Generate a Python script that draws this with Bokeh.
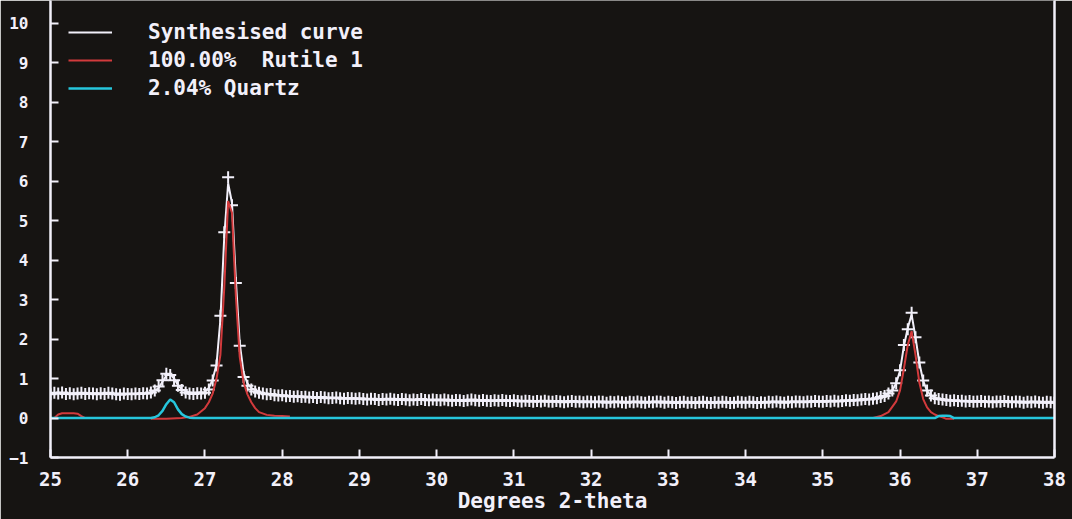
from bokeh.plotting import figure
from bokeh.models import Legend, LegendItem, LinearAxis, FixedTicker, Range1d
from bokeh.embed import file_html
from bokeh.resources import INLINE

# ---------------- data ----------------
# observed intensities, 2-theta 25.00 .. 38.00 in steps of 0.05
obs_start = 25.0
obs_step = 0.05
obs_values = [
    # 25.00 - 25.95
    0.60, 0.64, 0.62, 0.65, 0.61, 0.63, 0.60, 0.62, 0.64, 0.61,
    0.63, 0.62, 0.60, 0.63, 0.61, 0.64, 0.62, 0.60, 0.59, 0.62,
    # 26.00 - 26.95
    0.61, 0.60, 0.62, 0.61, 0.63, 0.62, 0.65, 0.70, 0.80, 0.96,
    1.12, 1.09, 0.96, 0.82, 0.71, 0.65, 0.62, 0.61, 0.63, 0.62,
    # 27.00 - 27.95
    0.64, 0.72, 0.95, 1.33, 2.59, 4.71, 6.10, 5.39, 3.42, 1.83,
    1.04, 0.82, 0.72, 0.67, 0.64, 0.62, 0.60, 0.61, 0.58, 0.57,
    # 28.00 - 28.95
    0.58, 0.55, 0.56, 0.54, 0.55, 0.53, 0.54, 0.52, 0.53, 0.51,
    0.53, 0.52, 0.50, 0.51, 0.52, 0.50, 0.49, 0.51, 0.50, 0.49,
    # 29.00 - 29.95
    0.50, 0.48, 0.47, 0.49, 0.48, 0.46, 0.48, 0.47, 0.49, 0.47,
    0.46, 0.48, 0.47, 0.45, 0.47, 0.46, 0.48, 0.46, 0.45, 0.47,
    # 30.00 - 30.95
    0.46, 0.45, 0.47, 0.45, 0.44, 0.46, 0.45, 0.43, 0.45, 0.47,
    0.45, 0.44, 0.46, 0.44, 0.43, 0.45, 0.44, 0.46, 0.44, 0.43,
    # 31.00 - 31.95
    0.45, 0.43, 0.42, 0.44, 0.43, 0.41, 0.43, 0.42, 0.44, 0.42,
    0.41, 0.43, 0.42, 0.40, 0.42, 0.43, 0.41, 0.42, 0.40, 0.42,
    # 32.00 - 32.95
    0.41, 0.40, 0.42, 0.41, 0.39, 0.41, 0.40, 0.42, 0.40, 0.39,
    0.41, 0.40, 0.42, 0.40, 0.39, 0.41, 0.40, 0.42, 0.41, 0.39,
    # 33.00 - 33.95
    0.41, 0.40, 0.38, 0.40, 0.41, 0.39, 0.40, 0.38, 0.40, 0.41,
    0.39, 0.38, 0.40, 0.39, 0.41, 0.40, 0.38, 0.39, 0.41, 0.40,
    # 34.00 - 34.95
    0.39, 0.41, 0.40, 0.38, 0.40, 0.39, 0.41, 0.40, 0.42, 0.40,
    0.39, 0.41, 0.40, 0.42, 0.41, 0.40, 0.42, 0.41, 0.43, 0.42,
    # 35.00 - 35.95
    0.41, 0.43, 0.42, 0.44, 0.42, 0.43, 0.45, 0.44, 0.46, 0.45,
    0.47, 0.48, 0.47, 0.49, 0.50, 0.53, 0.56, 0.62, 0.70, 0.88,
    # 36.00 - 36.95
    1.21, 1.85, 2.25, 2.67, 2.05, 1.41, 0.95, 0.70, 0.57, 0.50,
    0.48, 0.47, 0.46, 0.44, 0.45, 0.43, 0.44, 0.42, 0.43, 0.41,
    # 37.00 - 37.95
    0.42, 0.43, 0.41, 0.42, 0.40, 0.42, 0.41, 0.43, 0.41, 0.40,
    0.42, 0.41, 0.39, 0.41, 0.40, 0.42, 0.40, 0.39, 0.41, 0.40,
    # 38.00
    0.39,
]
obs_x = [round(obs_start + i * obs_step, 2) for i in range(len(obs_values))]

# synthesised curve
synth_x = [25.0, 25.5, 26.0, 26.3, 26.4, 26.45, 26.5, 26.55, 26.6, 26.65,
           26.7, 26.8, 27.0, 27.05, 27.1, 27.15, 27.2, 27.25, 27.3, 27.35,
           27.4, 27.45, 27.5, 27.55, 27.6, 27.7, 27.8, 28.0, 28.5, 29.0,
           30.0, 31.0, 32.0, 33.0, 34.0, 35.0, 35.5, 35.7, 35.8, 35.9,
           35.95, 36.0, 36.05, 36.1, 36.15, 36.2, 36.25, 36.3, 36.35, 36.4,
           36.5, 36.7, 37.0, 38.0]
synth_y = [0.62, 0.62, 0.61, 0.63, 0.76, 0.92, 1.08, 1.12, 1.00, 0.84,
           0.72, 0.64, 0.66, 0.76, 0.98, 1.36, 2.50, 4.60, 5.95, 5.45,
           3.50, 1.90, 1.15, 0.88, 0.76, 0.66, 0.61, 0.57, 0.52, 0.48,
           0.45, 0.43, 0.41, 0.40, 0.40, 0.42, 0.45, 0.50, 0.56, 0.70,
           0.88, 1.20, 1.82, 2.28, 2.62, 2.05, 1.40, 0.94, 0.69, 0.57,
           0.48, 0.44, 0.42, 0.39]

# Rutile 1 component (drawn only where non-zero; NaN separates pieces)
nan = float("nan")
rutile_x = [25.05, 25.10, 25.15, 25.20, 25.25, 25.30, 25.35, 25.40, 25.45,
            nan,
            26.30, 26.50, 26.70, 26.80, 26.90, 27.00, 27.05, 27.10, 27.15,
            27.20, 27.25, 27.30, 27.35, 27.40, 27.45, 27.50, 27.55, 27.60,
            27.65, 27.70, 27.80, 27.90, 28.00, 28.10,
            nan,
            35.65, 35.75, 35.85, 35.95, 36.00, 36.05, 36.10, 36.15, 36.20,
            36.25, 36.30, 36.35, 36.40, 36.45, 36.50, 36.55, 36.60, 36.70]
rutile_y = [0.00, 0.09, 0.12, 0.12, 0.12, 0.12, 0.11, 0.05, 0.00,
            nan,
            -0.02, -0.02, 0.00, 0.03, 0.09, 0.25, 0.40, 0.62, 1.00,
            1.60, 3.30, 5.50, 5.20, 3.10, 1.55, 0.90, 0.60, 0.40,
            0.25, 0.15, 0.08, 0.06, 0.05, 0.04,
            nan,
            0.00, 0.05, 0.15, 0.42, 0.70, 1.25, 1.85, 2.20, 1.60,
            0.90, 0.48, 0.27, 0.15, 0.09, 0.05, 0.02, -0.02, -0.02]

# Quartz component
quartz_x = [25.0, 26.30, 26.35, 26.40, 26.45, 26.50, 26.55, 26.60, 26.65, 26.70,
            26.75, 26.80, 26.85, 36.45, 36.50, 36.55, 36.60, 36.65, 36.70, 38.0]
quartz_y = [0.0, 0.0, 0.02, 0.07, 0.18, 0.35, 0.47, 0.40, 0.22, 0.10,
            0.04, 0.01, 0.0, 0.0, 0.05, 0.06, 0.06, 0.05, 0.0, 0.0]

legend_labels = ["Synthesised curve", "100.00%  Rutile 1", "2.04% Quartz"]
x_ticks = list(range(25, 39))
y_ticks = list(range(-1, 11))
x_title = "Degrees 2-theta"

# ---------------- style ----------------
BG = "#161412"
WHITE = "#f2f0fa"
RED = "#d23a3c"
CYAN = "#26c6dc"
FONT = "DejaVu Sans Mono"

p = figure(width=1072, height=519,
           x_range=Range1d(25, 38), y_range=Range1d(-1, 10.58),
           output_backend="svg", toolbar_location=None,
           background_fill_color=BG, border_fill_color=BG,
           outline_line_color=None,
           min_border_left=50, min_border_right=18,
           min_border_top=0, min_border_bottom=62)
p.grid.visible = False

obs_r = p.scatter(obs_x, obs_values, marker="cross", size=12,
                  line_color=WHITE, line_width=2)
synth_r = p.line(synth_x, synth_y, line_color=WHITE, line_width=2)
rut_r = p.line(rutile_x, rutile_y, line_color=RED, line_width=2)
qtz_r = p.line(quartz_x, quartz_y, line_color=CYAN, line_width=2.5)

for ax, ticks in ((p.xaxis[0], x_ticks), (p.yaxis[0], y_ticks)):
    ax.ticker = FixedTicker(ticks=ticks)
    ax.axis_line_color = WHITE
    ax.axis_line_width = 2.5
    ax.major_tick_line_color = WHITE
    ax.major_tick_line_width = 2
    ax.major_tick_in = 8
    ax.major_tick_out = 0
    ax.minor_tick_line_color = None
    ax.major_label_text_color = WHITE
    ax.major_label_text_font = FONT
    ax.major_label_text_font_style = "bold"

p.xaxis[0].major_label_text_font_size = "19px"
p.xaxis[0].major_label_standoff = 14
p.xaxis[0].axis_label = x_title
p.xaxis[0].axis_label_text_color = WHITE
p.xaxis[0].axis_label_text_font = FONT
p.xaxis[0].axis_label_text_font_style = "bold"
p.xaxis[0].axis_label_text_font_size = "21px"
p.xaxis[0].axis_label_standoff = 0

p.yaxis[0].major_label_text_font_size = "16px"
p.yaxis[0].major_label_standoff = 22

right = LinearAxis(ticker=FixedTicker(ticks=[]), axis_line_color=WHITE,
                   axis_line_width=2.5, major_tick_line_color=None,
                   minor_tick_line_color=None, major_label_text_color=None)
p.add_layout(right, "right")

legend = Legend(items=[LegendItem(label=legend_labels[0], renderers=[synth_r]),
                       LegendItem(label=legend_labels[1], renderers=[rut_r]),
                       LegendItem(label=legend_labels[2], renderers=[qtz_r])],
                location="top_left", margin=18, padding=12, spacing=0,
                glyph_width=44, glyph_height=28, label_standoff=36,
                background_fill_alpha=0, border_line_color=None,
                label_text_color=WHITE, label_text_font=FONT,
                label_text_font_style="bold", label_text_font_size="21px")
p.add_layout(legend, "center")

open("out.html", "w").write(file_html(p, INLINE))
